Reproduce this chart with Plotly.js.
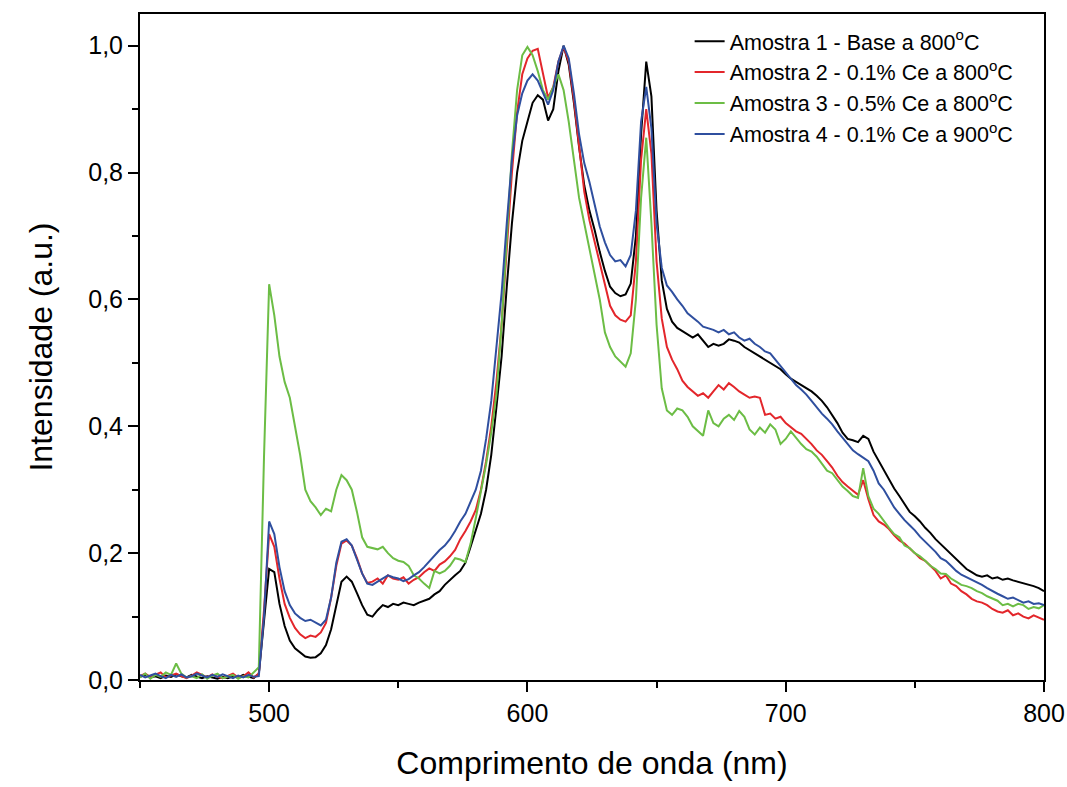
<!DOCTYPE html>
<html>
<head>
<meta charset="utf-8">
<script src="https://cdn.plot.ly/plotly-3.0.1.min.js"></script>
<style>html,body{margin:0;padding:0;background:#fff;}#chart{width:1067px;height:787px;}</style>
</head>
<body>
<div id="chart"></div>
<script>
const wavelength = [
450,452,454,456,458,460,462,464,466,468,
470,472,474,476,478,480,482,484,486,488,
490,492,494,496,498,500,502,504,506,508,
510,512,514,516,518,520,522,524,526,528,
530,532,534,536,538,540,542,544,546,548,
550,552,554,556,558,560,562,564,566,568,
570,572,574,576,578,580,582,584,586,588,
590,592,594,596,598,600,602,604,606,608,
610,612,614,616,618,620,622,624,626,628,
630,632,634,636,638,640,642,644,646,648,
650,652,654,656,658,660,662,664,666,668,
670,672,674,676,678,680,682,684,686,688,
690,692,694,696,698,700,702,704,706,708,
710,712,714,716,718,720,722,724,726,728,
730,732,734,736,738,740,742,744,746,748,
750,752,754,756,758,760,762,764,766,768,
770,772,774,776,778,780,782,784,786,788,
790,792,794,796,798,800];

const amostra1 = [
0.005,0.008,0.004,0.006,0.003,0.007,0.005,0.009,0.006,0.004,
0.008,0.005,0.003,0.006,0.004,0.002,0.005,0.003,0.006,0.004,
0.008,0.005,0.003,0.010,0.090,0.175,0.170,0.120,0.085,0.062,
0.050,0.043,0.037,0.035,0.036,0.042,0.055,0.080,0.120,0.155,
0.163,0.155,0.137,0.118,0.103,0.100,0.110,0.118,0.115,0.120,
0.118,0.122,0.120,0.118,0.122,0.125,0.128,0.135,0.140,0.150,
0.158,0.165,0.172,0.185,0.210,0.235,0.262,0.300,0.355,0.430,
0.510,0.620,0.720,0.800,0.850,0.880,0.910,0.922,0.915,0.882,
0.900,0.960,1.000,0.970,0.910,0.840,0.780,0.740,0.710,0.675,
0.645,0.620,0.610,0.605,0.608,0.625,0.700,0.860,0.975,0.920,
0.740,0.630,0.585,0.565,0.555,0.550,0.545,0.540,0.545,0.535,
0.525,0.530,0.527,0.530,0.537,0.535,0.532,0.525,0.520,0.515,
0.510,0.505,0.500,0.495,0.490,0.482,0.475,0.470,0.465,0.460,
0.455,0.448,0.440,0.430,0.418,0.405,0.390,0.380,0.378,0.375,
0.385,0.380,0.360,0.345,0.330,0.315,0.302,0.290,0.278,0.265,
0.258,0.250,0.240,0.232,0.222,0.214,0.206,0.198,0.190,0.183,
0.175,0.170,0.165,0.163,0.165,0.160,0.162,0.158,0.160,0.157,
0.155,0.153,0.150,0.148,0.145,0.140];

const amostra2 = [
0.006,0.010,0.005,0.008,0.012,0.004,0.007,0.010,0.006,0.003,
0.007,0.012,0.008,0.004,0.009,0.005,0.003,0.006,0.010,0.004,
0.006,0.012,0.004,0.010,0.110,0.230,0.210,0.160,0.120,0.098,
0.082,0.072,0.066,0.070,0.068,0.075,0.090,0.130,0.180,0.215,
0.220,0.212,0.192,0.168,0.153,0.155,0.160,0.152,0.165,0.160,
0.158,0.162,0.152,0.158,0.162,0.170,0.176,0.172,0.182,0.187,
0.195,0.205,0.222,0.235,0.250,0.268,0.300,0.345,0.400,0.470,
0.560,0.680,0.800,0.895,0.955,0.980,0.992,0.995,0.955,0.918,
0.935,0.975,0.998,0.975,0.915,0.840,0.770,0.725,0.690,0.655,
0.620,0.590,0.575,0.568,0.565,0.575,0.660,0.820,0.900,0.830,
0.660,0.570,0.525,0.505,0.490,0.472,0.462,0.455,0.448,0.452,
0.445,0.455,0.465,0.458,0.468,0.462,0.455,0.450,0.445,0.447,
0.445,0.418,0.420,0.412,0.415,0.405,0.398,0.392,0.388,0.380,
0.372,0.362,0.355,0.345,0.335,0.322,0.312,0.305,0.298,0.292,
0.315,0.285,0.260,0.250,0.245,0.238,0.228,0.220,0.215,0.208,
0.200,0.192,0.188,0.180,0.172,0.160,0.165,0.152,0.148,0.140,
0.135,0.128,0.124,0.122,0.118,0.112,0.108,0.106,0.110,0.102,
0.105,0.100,0.097,0.102,0.098,0.095];

const amostra3 = [
0.004,0.010,0.002,0.008,0.005,0.012,0.008,0.026,0.010,0.004,
0.006,0.003,0.009,0.002,0.007,0.010,0.003,0.005,0.008,0.002,
0.006,0.004,0.012,0.020,0.350,0.624,0.575,0.510,0.470,0.445,
0.400,0.355,0.300,0.282,0.272,0.260,0.270,0.266,0.300,0.323,
0.315,0.300,0.265,0.225,0.210,0.208,0.206,0.210,0.200,0.192,
0.188,0.186,0.180,0.165,0.160,0.152,0.145,0.172,0.168,0.172,
0.180,0.192,0.190,0.186,0.215,0.255,0.295,0.340,0.390,0.450,
0.560,0.700,0.830,0.930,0.985,0.998,0.985,0.960,0.930,0.915,
0.935,0.955,0.930,0.880,0.820,0.760,0.720,0.680,0.640,0.600,
0.548,0.525,0.510,0.502,0.494,0.515,0.600,0.760,0.855,0.720,
0.560,0.460,0.425,0.418,0.428,0.425,0.415,0.400,0.392,0.385,
0.425,0.405,0.400,0.412,0.418,0.410,0.424,0.415,0.395,0.387,
0.398,0.390,0.403,0.395,0.372,0.380,0.392,0.381,0.372,0.364,
0.360,0.352,0.340,0.330,0.326,0.315,0.305,0.298,0.290,0.287,
0.334,0.290,0.270,0.262,0.250,0.240,0.230,0.225,0.212,0.208,
0.200,0.195,0.188,0.180,0.175,0.168,0.167,0.160,0.155,0.150,
0.148,0.145,0.140,0.137,0.132,0.128,0.125,0.118,0.120,0.116,
0.120,0.118,0.112,0.115,0.113,0.118];

const amostra4 = [
0.008,0.004,0.007,0.010,0.006,0.003,0.008,0.005,0.009,0.004,
0.006,0.010,0.007,0.004,0.008,0.005,0.009,0.006,0.003,0.007,
0.004,0.008,0.005,0.006,0.100,0.250,0.230,0.178,0.140,0.118,
0.105,0.098,0.093,0.095,0.090,0.086,0.095,0.130,0.185,0.218,
0.222,0.212,0.190,0.168,0.152,0.150,0.155,0.160,0.165,0.162,
0.160,0.156,0.159,0.165,0.170,0.178,0.187,0.195,0.205,0.212,
0.222,0.235,0.250,0.262,0.280,0.300,0.330,0.380,0.440,0.520,
0.610,0.720,0.820,0.890,0.925,0.945,0.955,0.945,0.925,0.907,
0.930,0.975,1.000,0.980,0.925,0.860,0.815,0.785,0.750,0.715,
0.690,0.670,0.660,0.662,0.652,0.670,0.740,0.880,0.935,0.870,
0.720,0.650,0.622,0.612,0.600,0.590,0.578,0.572,0.565,0.557,
0.555,0.552,0.548,0.552,0.545,0.548,0.540,0.535,0.538,0.530,
0.525,0.518,0.515,0.505,0.495,0.485,0.475,0.465,0.458,0.450,
0.440,0.430,0.420,0.412,0.403,0.392,0.382,0.372,0.362,0.356,
0.350,0.345,0.330,0.310,0.300,0.285,0.272,0.262,0.252,0.244,
0.236,0.226,0.218,0.210,0.202,0.192,0.188,0.180,0.172,0.166,
0.162,0.158,0.155,0.150,0.145,0.140,0.136,0.132,0.128,0.130,
0.126,0.122,0.124,0.120,0.121,0.118];

const seriesNames = [
  'Amostra 1 - Base a 800<sup>o</sup>C',
  'Amostra 2 - 0.1% Ce a 800<sup>o</sup>C',
  'Amostra 3 - 0.5% Ce a 800<sup>o</sup>C',
  'Amostra 4 - 0.1% Ce a 900<sup>o</sup>C'
];
const seriesColors = ['#000000', '#e3262b', '#6cbd45', '#2f4f9f'];
const seriesValues = [amostra1, amostra2, amostra3, amostra4];

const traces = seriesValues.map((v, i) => ({
  x: wavelength, y: v, type: 'scatter', mode: 'lines',
  name: seriesNames[i],
  line: {color: seriesColors[i], width: 2}
}));

const FONT = 'Liberation Sans, Arial, Helvetica, sans-serif';

const layout = {
  width: 1067, height: 787,
  margin: {l: 140, r: 23, t: 14, b: 107},
  paper_bgcolor: '#fff', plot_bgcolor: '#fff',
  font: {family: FONT, color: '#000', size: 21},
  separators: ',.',
  showlegend: true,
  legend: {x: 0.608, y: 0.990, xanchor: 'left', yanchor: 'top',
           bgcolor: 'rgba(0,0,0,0)', font: {size: 21.5, family: FONT}, tracegroupgap: 0},
  xaxis: {
    range: [450, 800], tickmode: 'array', tickvals: [500, 600, 700, 800],
    ticks: 'outside', ticklen: 10, tickwidth: 2, tickcolor: '#000',
    minor: {tickmode: 'array', tickvals: [450, 550, 650, 750], ticks: 'outside', ticklen: 6, tickwidth: 2, tickcolor: '#000'},
    showline: true, linewidth: 2, linecolor: '#000', mirror: true,
    showgrid: false, zeroline: false,
    tickfont: {size: 25, family: FONT},
    title: {text: 'Comprimento de onda (nm)', font: {size: 32, family: FONT}, standoff: 26},
    automargin: false
  },
  yaxis: {
    range: [0, 1.05], tick0: 0, dtick: 0.2, tickformat: '.1f',
    ticks: 'outside', ticklen: 10, tickwidth: 2, tickcolor: '#000',
    minor: {dtick: 0.1, ticks: 'outside', ticklen: 6, tickwidth: 2, tickcolor: '#000'},
    showline: true, linewidth: 2, linecolor: '#000', mirror: true,
    showgrid: false, zeroline: false,
    tickfont: {size: 25, family: FONT},
    title: {text: 'Intensidade (a.u.)', font: {size: 32, family: FONT}, standoff: 26},
    automargin: false
  }
};

Plotly.newPlot('chart', traces, layout, {displayModeBar: false, staticPlot: true});
</script>
</body>
</html>
